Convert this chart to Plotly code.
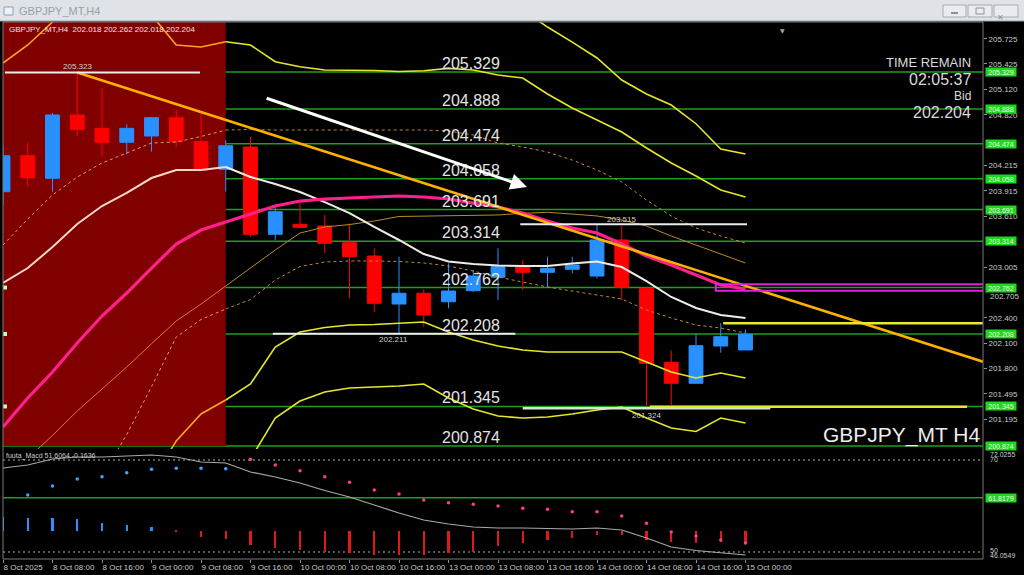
import plotly.graph_objects as go

# ---------------- data ----------------
bars = list(range(31))
time_ticks = list(range(0, 31, 2))
time_labels = ["8 Oct 2025", "8 Oct 08:00", "8 Oct 16:00", "9 Oct 00:00", "9 Oct 08:00",
               "9 Oct 16:00", "10 Oct 00:00", "10 Oct 08:00", "10 Oct 16:00", "13 Oct 00:00",
               "13 Oct 08:00", "13 Oct 16:00", "14 Oct 00:00", "14 Oct 08:00", "14 Oct 16:00",
               "15 Oct 00:00"]

opens = [203.903, 204.332, 204.063, 204.817, 204.658, 204.492, 204.567, 204.785, 204.499, 204.170,
         204.436, 203.396, 203.515, 203.495, 203.296, 203.137, 202.565, 202.693, 202.593, 202.724,
         202.884, 203.010, 202.943, 202.979, 202.899, 203.328, 202.752, 201.871, 201.621, 202.065,
         202.018]
highs = [204.459, 204.483, 204.841, 205.323, 205.138, 204.706, 204.793, 204.876, 204.837, 204.519,
         204.558, 203.725, 203.765, 203.626, 203.527, 203.229, 203.129, 202.741, 203.050, 202.970,
         203.229, 203.090, 203.129, 203.129, 203.515, 203.495, 202.756, 202.009, 202.216, 202.336,
         202.262]
lows = [203.745, 203.963, 203.903, 204.567, 204.320, 204.349, 204.380, 204.439, 204.156, 203.903,
        203.367, 203.328, 203.477, 203.169, 202.633, 202.474, 202.211, 202.295, 202.514, 202.708,
        202.613, 202.732, 202.764, 202.931, 202.872, 202.613, 201.324, 201.362, 201.619, 201.985,
        202.018]
closes = [204.332, 204.070, 204.817, 204.646, 204.492, 204.658, 204.785, 204.499, 204.162, 204.451,
          203.396, 203.665, 203.479, 203.289, 203.129, 202.574, 202.693, 202.434, 202.720, 202.899,
          203.010, 202.943, 202.991, 203.030, 203.328, 202.764, 201.859, 201.621, 202.069, 202.176,
          202.204]

band_up_inner = [205.436, 205.651, 205.925, 206.127, 206.187, 206.163, 206.008, 205.651, 205.627, 205.690,
                 205.651, 205.452, 205.392, 205.353, 205.353, 205.347, 205.335, 205.344, 205.373, 205.353,
                 205.293, 205.258, 205.067, 204.900, 204.757, 204.614, 204.424, 204.245, 204.090, 203.923,
                 203.840]
band_up_outer = [None] * 20 + [206.246, 206.068, 205.865, 205.686, 205.496, 205.234, 205.067, 204.936,
                               204.713, 204.412, 204.352]
band_lo_inner = [None] * 6 + [200.457, 200.933, 201.255, 201.422, 201.612, 202.053, 202.232, 202.285,
                              202.315, 202.321, 202.333, 202.351, 202.232, 202.137, 202.065, 202.017,
                              201.994, 201.994, 201.997, 201.994, 201.875, 201.755, 201.684, 201.744,
                              201.684]
band_lo_outer = [None] * 10 + [200.719, 201.207, 201.410, 201.517, 201.565, 201.577, 201.589, 201.612,
                               201.446, 201.315, 201.231, 201.207, 201.219, 201.255, 201.303, 201.338,
                               201.207, 201.088, 201.047, 201.207, 201.148]
gold_line = [200.457, 200.731, 200.999, 201.291, 201.553, 201.815, 202.092, 202.363, 202.565, 202.780,
             202.994, 203.209, 203.411, 203.483, 203.512, 203.554, 203.608, 203.614, 203.614, 203.620,
             203.626, 203.646, 203.658, 203.637, 203.614, 203.566, 203.495, 203.375, 203.268, 203.161,
             203.054]
gold_dot_lower = [None] * 4 + [200.516, 201.011, 201.580, 202.172, 202.381, 202.506, 202.619, 202.851,
                               203.012, 203.066, 203.078, 203.078, 203.072, 203.054, 203.018, 202.958,
                               202.887, 202.827, 202.768, 202.720, 202.673, 202.625, 202.494, 202.399,
                               202.315, 202.279, 202.220]
gold_dot_upper = [203.268, 203.578, 203.864, 204.078, 204.245, 204.364, 204.483, 204.495, 204.561, 204.638,
                  204.644, 204.638, 204.638, 204.638, 204.638, 204.638, 204.638, 204.638, 204.626, 204.579,
                  204.483, 204.436, 204.376, 204.281, 204.162, 204.019, 203.804, 203.614, 203.471, 203.375,
                  203.292]
ma_white = [202.816, 202.994, 203.244, 203.518, 203.733, 203.888, 204.066, 204.162, 204.162, 204.197,
            204.078, 203.995, 203.900, 203.780, 203.649, 203.483, 203.328, 203.161, 203.072, 203.042,
            203.024, 203.018, 203.018, 203.048, 203.072, 203.006, 202.839, 202.649, 202.518, 202.434,
            202.399]
ma_pink = [201.100, 201.446, 201.755, 202.101, 202.422, 202.696, 202.994, 203.280, 203.447, 203.542,
           203.637, 203.733, 203.792, 203.816, 203.828, 203.840, 203.852, 203.840, 203.816, 203.768,
           203.721, 203.649, 203.554, 203.471, 203.411, 203.280, 203.137, 203.030, 202.911, 202.792,
           202.744]

levels = [205.329, 204.888, 204.474, 204.058, 203.691, 203.314, 202.762, 202.208, 201.345, 200.874]
anchored_levels = [202.762, 202.208, 201.345]
price_ticks = [205.725, 205.425, 205.120, 204.820, 204.215, 203.915, 203.610, 203.005,
               202.400, 202.100, 201.800, 201.495, 201.195]
hidden_tick = 202.705   # mostly covered by the 202.762 price tag

extreme_vals = [205.323, 203.515, 202.211, 201.324]
extreme_x0 = [0.08, 20.9, 10.9, 21.0]
extreme_x1 = [7.96, 30.06, 20.7, 31.0]
extreme_label_x = [3.0, 25.0, 15.76, 26.0]

trend_x = [3.0, 39.6]
trend_y = [205.323, 201.878]
yellow_levels = [202.336, 201.342]
yellow_x0 = [29.1, 26.14]
yellow_x1 = [39.6, 38.95]
magenta_x = [28.8, 39.96]
magenta_y = [202.722, 202.802]
arrow_x = [10.59, 21.17]
arrow_y = [205.023, 203.959]
shade_end_bar = 9.0

# indicator panel
hist_base = 54.67
hist_tip = [57.61, 57.39, 57.39, 57.17, 56.30, 55.87, 55.43, 54.35, 53.26, 52.83,
            51.52, 50.87, 50.43, 50.00, 49.78, 49.35, 49.35, 49.35, 49.78, 50.00,
            51.30, 51.96, 52.61, 53.04, 53.70, 53.70, 52.61, 52.17, 51.96, 52.17, 51.96]
osc_line = [68.26, 68.91, 70.22, 70.65, 70.65, 70.87, 71.09, 70.65, 69.57, 69.35,
            67.39, 66.30, 65.00, 63.37, 61.96, 60.22, 58.48, 56.96, 56.09, 55.43,
            55.22, 55.22, 55.11, 55.00, 55.22, 54.78, 53.04, 51.09, 50.33, 49.78, 49.35]
osc_dots = [None, 62.39, 64.35, 65.87, 66.37, 67.24, 67.98, 68.20, 68.20, 68.11,
            70.15, 68.91, 67.67, 66.37, 65.15, 63.48, 62.61, 61.30, 60.72, 60.37,
            60.00, 59.50, 59.28, 58.76, 58.76, 57.83, 56.24, 54.35, 53.48, 52.61, 51.96]
panel_levels = [70, 50]
panel_fib = 61.8179

# ---------------- geometry helpers (layout only) ----------------
W, H = 1024, 575
ML, MR, MT, MB = 3, 41, 22, 16
PW, PH = W - ML - MR, H - MT - MB


def pxx(px):
    return (px - ML) / PW


def pxy(py):
    return (H - MB - py) / PH


FONT = "Liberation Sans, Arial, sans-serif"
BLUE = "#2890ff"
RED = "#ff0000"
YEL = "#e6e628"
GREEN = "#1f9e1f"

fig = go.Figure()


def split_series(vals, c_left, c_right, width, dash=None):
    xl = [b for b in bars if b <= shade_end_bar]
    xr = [b for b in bars if b >= shade_end_bar]
    for xs, col in ((xl, c_left), (xr, c_right)):
        fig.add_trace(go.Scatter(
            x=xs, y=[vals[b] for b in xs], mode="lines",
            line=dict(color=col, width=width, dash=dash),
            hoverinfo="skip", showlegend=False, connectgaps=False))


# candles
fig.add_trace(go.Candlestick(
    x=bars, open=opens, high=highs, low=lows, close=closes,
    increasing=dict(line=dict(color=BLUE, width=1), fillcolor=BLUE),
    decreasing=dict(line=dict(color=RED, width=1), fillcolor=RED),
    whiskerwidth=0, hoverinfo="skip", showlegend=False))

# indicator lines on price chart
split_series(gold_line, "#e07a28", "#b88a2a", 1)
split_series(gold_dot_upper, "#e09a60", "#c08a30", 1, "3px,3px")
split_series(gold_dot_lower, "#e09a60", "#c08a30", 1, "3px,3px")
split_series(band_up_inner, "#ffa41c", YEL, 1.6)
split_series(band_lo_inner, "#ffa41c", YEL, 1.6)
split_series(band_up_outer, "#ffa41c", YEL, 1.6)
split_series(band_lo_outer, "#ffa41c", YEL, 1.6)
split_series(ma_white, "#f6d6c8", "#f0ece4", 2)
split_series(ma_pink, "#ff1f8f", "#ff1f8f", 3.2)

# trendline
fig.add_trace(go.Scatter(x=trend_x, y=trend_y, mode="lines",
                         line=dict(color="#ffb000", width=2.6), hoverinfo="skip", showlegend=False))

# extreme markers
for i, v in enumerate(extreme_vals):
    col = "#d6ead0" if i == 3 else "#ececec"
    fig.add_trace(go.Scatter(x=[extreme_x0[i], extreme_x1[i]], y=[v, v], mode="lines",
                             line=dict(color=col, width=2.5 if i == 3 else 2),
                             hoverinfo="skip", showlegend=False))

# yellow horizontal lines
for i, v in enumerate(yellow_levels):
    fig.add_trace(go.Scatter(x=[yellow_x0[i], yellow_x1[i]], y=[v, v], mode="lines",
                             line=dict(color="#e8e830", width=2.4), hoverinfo="skip", showlegend=False))

# anchor squares of horizontal lines
fig.add_trace(go.Scatter(x=[0.08] * len(anchored_levels), y=anchored_levels, mode="markers",
                         marker=dict(symbol="square", size=4, color="#b8ffb8"),
                         hoverinfo="skip", showlegend=False))

# ---------------- indicator panel ----------------
hist_len = [t - hist_base for t in hist_tip]
fig.add_trace(go.Bar(x=bars, y=hist_len, base=hist_base, width=0.09,
                     marker=dict(color=[BLUE if h > 0 else "#e01818" for h in hist_len], line=dict(width=0)),
                     xaxis="x", yaxis="y2", hoverinfo="skip", showlegend=False))
fig.add_trace(go.Scatter(x=bars, y=osc_line, mode="lines", line=dict(color="#a8a8a8", width=1.2),
                         xaxis="x", yaxis="y2", hoverinfo="skip", showlegend=False))
dot_cols = ["#ff3c8c" if (d is not None and d > l) else "#39a7ff" for d, l in zip(osc_dots, osc_line)]
fig.add_trace(go.Scatter(x=bars, y=osc_dots, mode="markers", marker=dict(size=3.5, color=dot_cols),
                         xaxis="x", yaxis="y2", hoverinfo="skip", showlegend=False))

# ---------------- shapes ----------------
shapes = []
shapes.append(dict(type="rect", xref="x", yref="y", x0=-1, x1=shade_end_bar, y0=levels[-1], y1=207,
                   fillcolor="#800000", line=dict(width=0), layer="below"))
for v in levels:
    shapes.append(dict(type="line", xref="paper", yref="y", x0=0, x1=1, y0=v, y1=v,
                       line=dict(color=GREEN, width=1.5), layer="below"))
shapes.append(dict(type="rect", xref="x", yref="y", x0=magenta_x[0], x1=magenta_x[1],
                   y0=magenta_y[0], y1=magenta_y[1], line=dict(color="#e21ee2", width=2),
                   fillcolor="rgba(0,0,0,0)"))
for v in panel_levels:
    shapes.append(dict(type="line", xref="paper", yref="y2", x0=0, x1=1, y0=v, y1=v,
                       line=dict(color="#b0b0b0", width=1, dash="2px,3px"), layer="below"))
shapes.append(dict(type="line", xref="paper", yref="y2", x0=0, x1=1, y0=panel_fib, y1=panel_fib,
                   line=dict(color=GREEN, width=1.5), layer="below"))
shapes.append(dict(type="rect", xref="paper", yref="paper", x0=0, x1=1, y0=0, y1=1,
                   line=dict(color="#7a7a7a", width=1)))
# title bar
shapes.append(dict(type="rect", xref="paper", yref="paper", x0=pxx(0), x1=pxx(W), y0=pxy(0), y1=pxy(21),
                   fillcolor="#dfe3e8", line=dict(width=0)))
shapes.append(dict(type="line", xref="paper", yref="paper", x0=pxx(0), x1=pxx(W), y0=pxy(21), y1=pxy(21),
                   line=dict(color="#9aa2aa", width=1)))
shapes.append(dict(type="rect", xref="paper", yref="paper", x0=pxx(4), x1=pxx(13), y0=pxy(7), y1=pxy(15),
                   fillcolor="#eef2f6", line=dict(color="#8aa0b8", width=1)))
for bx0, bx1 in ((943, 966), (968, 992), (994, 1018)):
    shapes.append(dict(type="rect", xref="paper", yref="paper", x0=pxx(bx0), x1=pxx(bx1), y0=pxy(5),
                       y1=pxy(17), fillcolor="#e9ecf0", line=dict(color="#a4acb4", width=1)))
shapes.append(dict(type="line", xref="paper", yref="paper", x0=pxx(951), x1=pxx(958), y0=pxy(13), y1=pxy(13),
                   line=dict(color="#8a929a", width=2)))
shapes.append(dict(type="rect", xref="paper", yref="paper", x0=pxx(976), x1=pxx(984), y0=pxy(8), y1=pxy(14),
                   line=dict(color="#8a929a", width=1)))

# ---------------- annotations ----------------
ann = []
wtxt = "#e4e4e4"
for v in levels:
    ann.append(dict(x=17.65, y=v, xref="x", yref="y", text=f"{v:.3f}", showarrow=False,
                    xanchor="left", yanchor="bottom", yshift=-2,
                    font=dict(family=FONT, size=16, color=wtxt)))
    ann.append(dict(x=1, y=v, xref="paper", yref="y", text=f"{v:.3f}", showarrow=False,
                    xanchor="left", yanchor="middle", xshift=2, width=30, height=8, borderpad=0,
                    bgcolor="#1ed81e", font=dict(family=FONT, size=7, color="#eaffea")))
ann.append(dict(x=1, y=panel_fib, xref="paper", yref="y2", text=f"{panel_fib:.4f}", showarrow=False,
                xanchor="left", yanchor="middle", xshift=2, width=30, height=8, borderpad=0,
                bgcolor="#1ed81e", font=dict(family=FONT, size=7, color="#eaffea")))
# partly hidden axis label below the 202.762 tag
ann.append(dict(x=1, y=hidden_tick, xref="paper", yref="y", text=f"{hidden_tick:.3f}", showarrow=False,
                xanchor="left", yanchor="middle", xshift=5, yshift=-4,
                font=dict(family=FONT, size=8, color="#c8c8c8")))

shifts = [6, 5, -6, -7]
for i, v in enumerate(extreme_vals):
    ann.append(dict(x=extreme_label_x[i], y=v, xref="x", yref="y", text=f"{v:.3f}", showarrow=False,
                    yshift=shifts[i], font=dict(family=FONT, size=8, color="#cfcfcf")))

ann.append(dict(x=arrow_x[1], y=arrow_y[1], ax=arrow_x[0], ay=arrow_y[0], xref="x", yref="y",
                axref="x", ayref="y", text="", showarrow=True, arrowhead=2, arrowsize=1.1,
                arrowwidth=3, arrowcolor="#ffffff"))

ann.append(dict(x=pxx(7), y=pxy(30), xref="paper", yref="paper", xanchor="left", yanchor="middle",
                text="GBPJPY_MT,H4  202.018 202.262 202.018 202.204", showarrow=False,
                font=dict(family=FONT, size=8, color="#e8e8e8")))
for txt, py, sz in (("TIME REMAIN", 62, 13), ("02:05:37", 79, 16),
                    ("Bid", 95.5, 12), ("202.204", 112, 16)):
    ann.append(dict(x=pxx(972), y=pxy(py), xref="paper", yref="paper", xanchor="right", yanchor="middle",
                    text=txt, showarrow=False, borderpad=0,
                    font=dict(family=FONT, size=sz, color="#dadada")))
ann.append(dict(x=pxx(982), y=pxy(435), xref="paper", yref="paper", xanchor="right", yanchor="middle",
                text="GBPJPY_MT H4", showarrow=False, font=dict(family=FONT, size=21, color="#ececec")))
ann.append(dict(x=pxx(4), y=pxy(455.5), xref="paper", yref="paper", xanchor="left", yanchor="middle",
                text="fuuta_Macd 51.6064 -0.1636", showarrow=False,
                font=dict(family=FONT, size=7, color="#cfcfcf")))
for txt, py in (("72.0255", 454), ("70", 459.5), ("50", 550), ("46.0549", 555)):
    ann.append(dict(x=pxx(988), y=pxy(py), xref="paper", yref="paper", xanchor="left", yanchor="middle",
                    text=txt, showarrow=False, font=dict(family=FONT, size=7, color="#c8c8c8")))
ann.append(dict(x=pxx(787), y=pxy(25), xref="paper", yref="paper", text="▼", showarrow=False,
                font=dict(family="DejaVu Sans", size=6, color="#a8a8a8")))
ann.append(dict(x=pxx(17), y=pxy(11), xref="paper", yref="paper", xanchor="left", yanchor="middle",
                text="GBPJPY_MT,H4", showarrow=False, font=dict(family=FONT, size=11, color="#98a0a8")))
ann.append(dict(x=pxx(1006), y=pxy(11), xref="paper", yref="paper", text="✕", showarrow=False,
                font=dict(family="DejaVu Sans", size=8, color="#8a929a")))

fig.update_layout(
    width=W, height=H,
    margin=dict(l=ML, r=MR, t=MT, b=MB, autoexpand=False),
    paper_bgcolor="#000000", plot_bgcolor="#000000",
    showlegend=False, boxgap=0.2, bargap=0,
    font=dict(family=FONT, color="#c8c8c8"),
    xaxis=dict(range=[0, PW / 24.75], anchor="y2", showgrid=False, zeroline=False,
               rangeslider=dict(visible=False), tickvals=time_ticks, ticktext=time_labels,
               ticks="outside", ticklen=3, tickcolor="#909090", ticklabelposition="outside right",
               tickangle=0, tickfont=dict(family=FONT, size=8, color="#c8c8c8"), automargin=False,
               fixedrange=True),
    yaxis=dict(domain=[pxy(449), 1], range=[200.838, 205.925], side="right", anchor="x",
               showgrid=False, zeroline=False, tickvals=price_ticks,
               ticktext=[f"{t:.3f}" for t in price_ticks], ticks="outside", ticklen=3,
               tickcolor="#909090", tickfont=dict(family=FONT, size=8, color="#c8c8c8"),
               automargin=False),
    yaxis2=dict(domain=[0, pxy(451)], range=[48.478, 71.957], side="right", anchor="x",
                showgrid=False, zeroline=False, showticklabels=False, ticks="", automargin=False),
    shapes=shapes, annotations=ann,
)

fig.write_html("out.html", config={"displayModeBar": False},
               post_script="document.body.style.margin='0';document.body.style.overflow='hidden';")
